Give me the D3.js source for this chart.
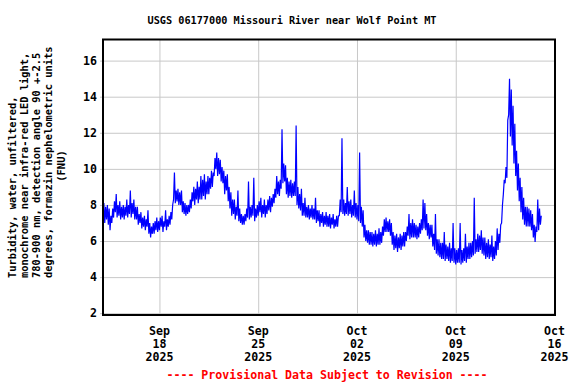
<!DOCTYPE html>
<html><head><meta charset="utf-8">
<script src="https://cdn.jsdelivr.net/npm/d3@7"></script>
<style>
body{margin:0;background:#fff}
svg{display:block}
text{font-family:"DejaVu Sans Mono",monospace;font-weight:bold}
</style>
</head><body>
<svg id="c" width="576" height="384"></svg>
<script>
const title = "USGS 06177000 Missouri River near Wolf Point MT";
const yTitleLines = [
  "Turbidity, water, unfiltered,",
  "monochrome near infra-red LED light,",
  "780-900 nm, detection angle 90 +-2.5",
  "degrees, formazin nephelometric units"
];
const yTitleUnit = "(FNU)";
const footer = "---- Provisional Data Subject to Revision ----";
const yTicks = [2, 4, 6, 8, 10, 12, 14, 16];
const xTickDates = ["2025-09-18", "2025-09-25", "2025-10-02", "2025-10-09", "2025-10-16"];
const xTickLabels = [["Sep","18","2025"],["Sep","25","2025"],["Oct","02","2025"],["Oct","09","2025"],["Oct","16","2025"]];
const seriesStart = "2025-09-14T00:00:00Z";
const windowHours = 3;
// low / high reading within each 3-hour window, Sep 14 - Sep 30
const sepLow = [
  7.3,7.0,7.2,6.9,6.6,7.0,7.3,7.6,
  7.3,7.4,7.2,7.3,7.2,7.4,7.3,7.5,
  7.3,7.5,7.2,7.2,6.9,7.0,6.7,6.8,
  6.6,6.8,6.4,6.2,6.4,6.4,6.6,6.5,
  6.6,6.8,6.5,6.8,6.6,6.8,6.9,7.2,
  8.3,8.1,8.2,8.0,8.0,7.6,7.5,7.4,
  7.5,7.6,7.8,8.2,8.0,8.3,8.1,8.3,
  8.3,8.5,8.3,8.6,8.6,8.9,9.0,9.6,
  10.0,9.6,9.7,9.3,9.2,8.6,8.8,8.2,
  7.8,7.4,7.5,7.2,7.4,7.1,7.0,6.9,
  6.9,7.1,7.3,7.2,7.3,7.4,7.1,7.3,
  7.4,7.6,7.3,7.5,7.3,7.5,7.7,7.6,
  7.9,8.1,8.4,8.6,8.5,8.9,9.2,9.3,
  8.6,8.4,8.5,8.4,8.5,8.5,8.0,7.8,
  7.7,7.4,7.4,7.3,7.3,7.2,7.3,7.2,
  7.2,7.0,7.1,6.8,7.0,6.8,6.9,6.8,
  6.8,6.7,6.9,6.7,6.8,6.8,7.4,7.6
];
const sepHigh = [
  8.1,7.9,8.0,7.8,7.4,7.8,8.2,8.6,
  8.0,8.2,7.9,8.0,7.9,8.3,8.0,8.8,
  8.1,8.3,7.9,7.9,7.5,7.6,7.3,7.4,
  7.2,7.7,7.0,6.8,7.0,7.1,7.3,7.1,
  7.3,7.4,7.1,7.7,7.2,7.4,7.6,8.0,
  9.8,8.8,8.9,8.7,8.8,8.2,8.1,8.0,
  8.0,8.3,8.7,9.0,8.9,9.3,9.0,9.6,
  9.4,9.7,9.3,9.6,9.5,9.9,9.8,10.6,
  10.9,10.6,10.5,10.1,9.9,9.6,9.7,9.0,
  8.7,8.3,8.3,7.9,8.8,7.8,7.5,7.4,
  7.5,7.8,9.3,7.9,8.0,9.5,7.8,8.0,
  8.2,8.4,8.0,8.3,8.0,8.3,8.5,8.4,
  8.6,8.9,9.6,9.3,9.4,12.2,10.3,10.2,
  9.5,9.3,9.4,9.2,9.3,12.4,9.0,8.6,
  8.9,8.1,8.4,7.9,8.0,7.8,8.0,7.8,
  8.4,7.7,7.7,7.5,7.6,7.4,7.6,7.4,
  7.5,7.3,7.5,7.2,7.4,7.4,8.3,11.7
];
// low / high reading within each 3-hour window, Oct 1 - Oct 15 00:00
const octLow = [
  7.5,7.4,7.5,7.4,7.5,7.3,7.4,7.3,
  7.2,7.1,7.0,6.8,6.2,6.0,5.9,5.8,
  5.8,5.7,5.8,5.7,5.8,5.8,5.9,6.3,
  6.5,6.5,6.5,6.3,5.8,5.5,5.6,5.4,
  5.6,5.5,5.7,5.7,6.0,6.3,6.1,6.2,
  6.2,6.2,6.1,6.2,6.4,6.6,6.7,6.6,
  6.3,6.1,6.2,5.7,5.5,5.3,5.2,5.1,
  5.0,5.0,4.9,5.0,4.9,4.8,4.9,4.8,
  4.7,4.8,4.8,4.7,4.8,4.9,4.8,5.0,
  5.0,5.1,5.2,5.3,5.4,5.4,5.5,5.3,
  5.2,5.0,5.1,5.0,5.1,4.9,5.0,5.2,
  5.5,5.9,7.0,8.6,9.2,9.5,13.0,11.8,
  11.3,10.3,9.6,8.8,8.2,7.6,7.2,6.9,
  6.8,6.8,6.8,6.6,6.2,5.95,6.5,6.6,
  6.9
];
const octHigh = [
  8.3,8.1,9.0,8.2,8.3,8.0,8.8,8.1,
  8.0,10.9,7.9,7.7,6.9,6.6,6.6,6.5,
  6.5,6.4,6.6,6.4,6.7,6.5,6.8,7.2,
  7.3,7.1,7.2,7.0,6.5,6.3,6.4,6.2,
  6.4,6.3,6.5,6.5,6.8,7.5,7.0,7.2,
  7.0,6.9,6.8,7.0,7.2,8.3,8.1,7.5,
  7.0,6.9,6.9,6.4,7.5,6.1,6.1,5.9,
  5.9,6.5,5.8,5.7,5.9,5.6,7.0,5.6,
  5.5,5.6,7.0,5.5,5.6,6.4,5.7,5.9,
  5.9,6.0,8.4,6.1,6.4,6.3,6.6,6.2,
  6.2,5.9,6.1,5.8,6.3,5.7,6.0,6.7,
  6.4,6.9,8.0,9.4,10.1,12.7,15.0,14.4,
  13.5,12.5,11.0,10.3,9.5,9.0,8.4,7.9,
  7.9,7.8,7.7,7.5,6.9,6.8,8.3,7.8,
  7.4
];

const svg = d3.select("#c");
const L = 103, R = 555, T = 39.5, B = 315;
const x = d3.scaleUtc()
  .domain([new Date("2025-09-14T00:00:00Z"), new Date("2025-10-16T00:00:00Z")])
  .range([L, R - 0.5]);
const y = d3.scaleLinear().domain([1.9, 17.17]).range([B, T]);

const start = new Date(seriesStart).getTime();
const H = 3600 * 1000;
const lows = sepLow.concat(octLow), highs = sepHigh.concat(octHigh);
const data = [];
lows.forEach((lo, i) => {
  const t0 = start + i * windowHours * H;
  data.push({ t: new Date(t0), v: lo });
  data.push({ t: new Date(t0 + windowHours * H / 2), v: highs[i] });
});

// horizontal grid + y labels
const yAx = svg.append("g").attr("transform", `translate(${R},0)`)
  .call(d3.axisLeft(y).tickValues(yTicks).tickSize(R - 100).tickPadding(3).tickFormat(d3.format("d")));
yAx.select(".domain").remove();
yAx.selectAll(".tick line").attr("stroke", "#c8c8c8").attr("stroke-width", 1);
yAx.selectAll(".tick text").attr("fill", "#000").style("font-size", "11.6px")
  .style("font-family", "'DejaVu Sans Mono',monospace").style("font-weight", "bold");

// vertical grid
const xDates = xTickDates.map(s => new Date(s + "T00:00:00Z"));
const xAx = svg.append("g").attr("transform", `translate(0,${B})`)
  .call(d3.axisBottom(x).tickValues(xDates).tickSize(-(B - T)).tickFormat(""));
xAx.select(".domain").remove();
xAx.selectAll(".tick line").attr("stroke", "#c8c8c8").attr("stroke-width", 1);

// x labels (3 lines)
const lab = svg.append("g");
xDates.forEach((d, i) => {
  const t = lab.append("text").attr("text-anchor", "middle")
    .attr("x", x(d)).attr("y", 334.5).style("font-size", "11.6px").attr("fill", "#000");
  xTickLabels[i].forEach((s, j) => {
    t.append("tspan").attr("x", x(d)).attr("y", 334.5 + j * 13).text(s);
  });
});

// series
svg.append("path").datum(data)
  .attr("fill", "none").attr("stroke", "#0000ff").attr("stroke-width", 1.2)
  .attr("stroke-linejoin", "miter")
  .attr("d", d3.line().x(d => x(d.t)).y(d => y(d.v)));

// frame
svg.append("rect").attr("x", L).attr("y", T).attr("width", R - L).attr("height", B - T)
  .attr("fill", "none").attr("stroke", "#000").attr("stroke-width", 2);

// title
svg.append("text").attr("x", 292).attr("y", 24).attr("text-anchor", "middle")
  .style("font-size", "11px").attr("textLength", 289).attr("lengthAdjust", "spacingAndGlyphs")
  .attr("fill", "#000").text(title);

// y title
const yt = svg.append("g");
yTitleLines.forEach((s, i) => {
  yt.append("text").attr("transform", `translate(${16 + i * 12},278) rotate(-90)`)
    .attr("text-anchor", "start").style("font-size", "10.4px").attr("fill", "#000").text(s);
});
yt.append("text").attr("transform", `translate(65,166) rotate(-90)`)
  .attr("text-anchor", "middle").style("font-size", "10.4px").attr("fill", "#000").text(yTitleUnit);

// footer
svg.append("text").attr("x", 327).attr("y", 379).attr("text-anchor", "middle")
  .style("font-size", "11.6px").attr("fill", "#ff0000").text(footer);
</script>
</body></html>
